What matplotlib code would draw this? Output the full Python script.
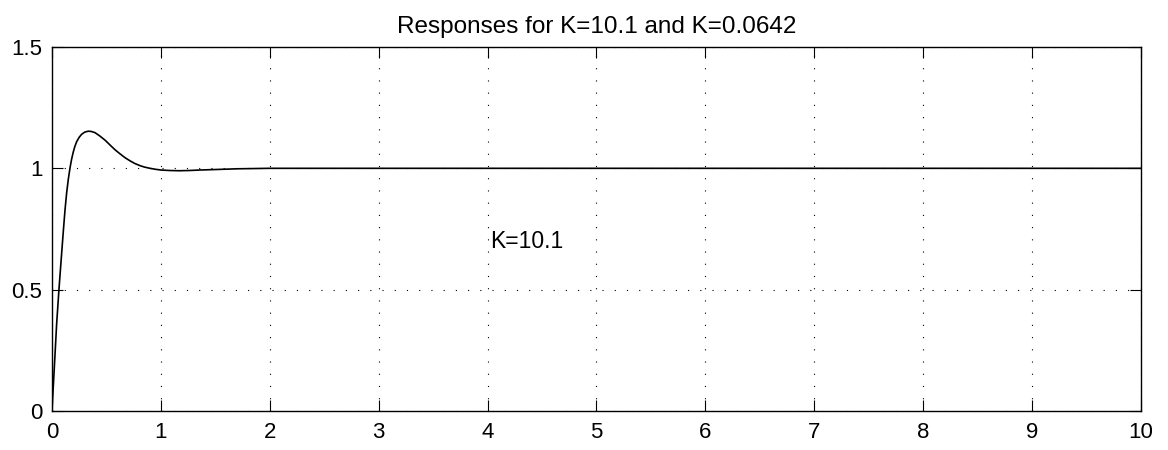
import matplotlib.pyplot as plt

plt.rcParams["font.family"] = ["Liberation Sans", "DejaVu Sans"]
plt.rcParams["font.stretch"] = "normal"

# step response (time, output)
t = [0, 0.012, 0.024, 0.043, 0.064, 0.083, 0.104, 0.12, 0.135, 0.15, 0.165,
     0.18, 0.196, 0.21, 0.227, 0.25, 0.272, 0.30, 0.333, 0.36, 0.395, 0.44,
     0.49, 0.533, 0.58, 0.624, 0.67, 0.716, 0.76, 0.808, 0.85, 0.90, 0.95,
     1.0, 1.08, 1.17, 1.26, 1.36, 1.5, 1.7, 2.0, 10]
y = [0, 0.10, 0.20, 0.36, 0.50, 0.615, 0.74, 0.83, 0.90, 0.955, 1.0,
     1.037, 1.068, 1.09, 1.11, 1.128, 1.14, 1.149, 1.153, 1.152, 1.147, 1.133,
     1.115, 1.096, 1.076, 1.06, 1.044, 1.031, 1.02, 1.011, 1.005, 1.0, 0.996,
     0.993, 0.991, 0.990, 0.991, 0.993, 0.995, 0.998, 1.0, 1.0]

xticks = list(range(0, 11))
yticks = [0, 0.5, 1, 1.5]
ytick_labels = ["0", "0.5", "1", "1.5"]

fig = plt.figure(figsize=(11.68, 4.5), dpi=100)
ax = fig.add_axes([0.0445, 0.0867, 0.9324, 0.8089])

ax.plot(t, y, color="black", linewidth=1.2)

ax.set_xlim(0, 10)
ax.set_ylim(0, 1.5)
ax.set_xticks(xticks)
ax.set_yticks(yticks)
ax.set_yticklabels(ytick_labels)
ax.tick_params(direction="in", length=8, width=0.8, top=True, right=True,
               labelsize=16, colors="black")
ax.tick_params(axis="x", pad=8)
ax.tick_params(axis="y", pad=7)
for s in ax.spines.values():
    s.set_linewidth(1.0)

ax.grid(True, color="black", linestyle=(0, (1, 10)), linewidth=0.8)

ax.text(4.02, 0.7, "K=10.1", fontsize=16.5, ha="left", va="center")
ax.set_title("Responses for K=10.1 and K=0.0642", fontsize=17.5, pad=10)

fig.savefig("out.png", dpi=100)
